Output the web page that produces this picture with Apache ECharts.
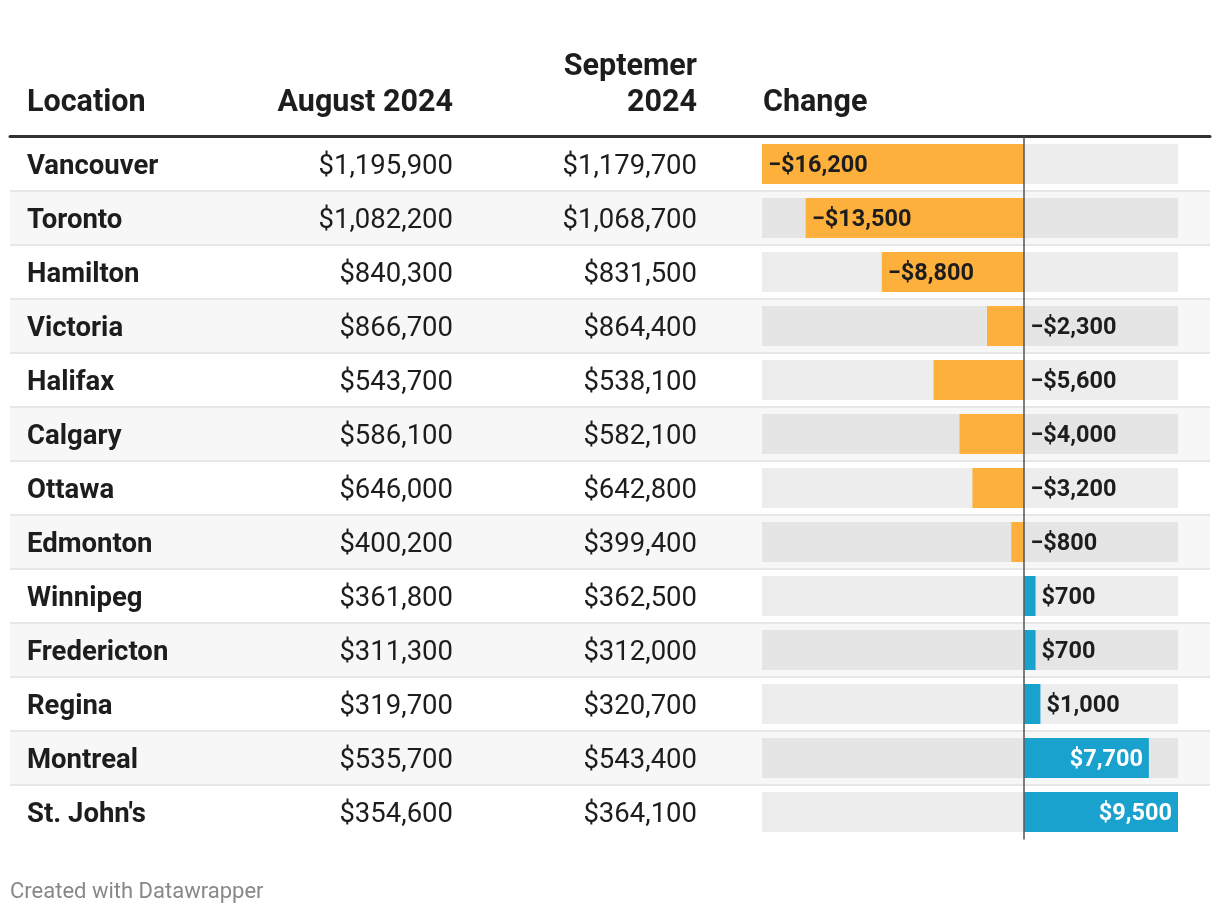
<!DOCTYPE html>
<html>
<head>
<meta charset="utf-8">
<script src="https://cdn.jsdelivr.net/npm/echarts@6.0.0/dist/echarts.min.js"></script>
<style>
  html, body { margin: 0; padding: 0; background: #ffffff; }
  #chart { width: 1220px; height: 914px; }
</style>
</head>
<body>
<div id="chart"></div>
<script>
// ---- Data ----
const locations = ['Vancouver', 'Toronto', 'Hamilton', 'Victoria', 'Halifax', 'Calgary', 'Ottawa',
  'Edmonton', 'Winnipeg', 'Fredericton', 'Regina', 'Montreal', "St. John's"];
const august2024 = [1195900, 1082200, 840300, 866700, 543700, 586100, 646000,
  400200, 361800, 311300, 319700, 535700, 354600];
const september2024 = [1179700, 1068700, 831500, 864400, 538100, 582100, 642800,
  399400, 362500, 312000, 320700, 543400, 364100];
const change = [-16200, -13500, -8800, -2300, -5600, -4000, -3200,
  -800, 700, 700, 1000, 7700, 9500];
const headers = ['Location', 'August 2024', 'Septemer\n2024', 'Change'];
const footerText = 'Created with Datawrapper';

// ---- Helpers ----
const FONT = 'Roboto, "Noto Sans", sans-serif';
const TEXT = '#1d1d1d';
function money(v) {
  const s = '$' + Math.abs(v).toLocaleString('en-US');
  return v < 0 ? '\u2212' + s : s;
}

const ORANGE = '#fdb03b';
const BLUE = '#1aa2cf';

const barData = change.map(function (v) {
  let label;
  if (v <= -8000) {
    label = { position: 'insideLeft', distance: 6, color: TEXT };
  } else if (v < 5000) {
    label = { position: 'right', distance: 6, color: TEXT };
  } else {
    label = { position: 'insideRight', distance: 6, color: '#ffffff' };
  }
  return { value: v, itemStyle: { color: v < 0 ? ORANGE : BLUE }, label: label };
});

const TOP = 137, ROWH = 54;
const HEIGHT = ROWH * locations.length;
const BODY_SIZE = 27.5;
const HEAD_SIZE = 30.5;
const TEXT_SHIFT = 3;

const chart = echarts.init(document.getElementById('chart'), null, { renderer: 'canvas' });

function labelAxis(x, align, fmt, bold) {
  return {
    type: 'category',
    gridIndex: 2,
    data: locations,
    inverse: true,
    position: 'left',
    offset: -(x - 10),
    axisLine: { show: false },
    axisTick: { show: false },
    axisLabel: {
      show: true,
      interval: 0,
      margin: 0,
      align: align,
      verticalAlign: 'middle',
      fontFamily: FONT,
      fontSize: BODY_SIZE,
      fontWeight: bold ? 'bold' : 'normal',
      color: TEXT,
      formatter: fmt
    },
    splitLine: { show: false },
    splitArea: { show: false }
  };
}

function headText(txt, x, y, align) {
  return { type: 'text', x: x, y: y, style: { text: txt, font: 'bold ' + HEAD_SIZE + 'px ' + FONT, fill: TEXT, align: align, verticalAlign: 'middle' } };
}

const option = {
  backgroundColor: '#ffffff',
  animation: false,
  grid: [
    { left: 10, right: 10, top: TOP, height: HEIGHT, outerBoundsMode: 'none', containLabel: false },
    { left: 762, right: 42, top: TOP, height: HEIGHT, outerBoundsMode: 'none', containLabel: false },
    { left: 10, right: 10, top: TOP + TEXT_SHIFT, height: HEIGHT, outerBoundsMode: 'none', containLabel: false }
  ],
  xAxis: [
    {
      type: 'value', gridIndex: 0, min: 0, max: 1, position: 'top', offset: 1,
      axisLine: { show: true, onZero: false, lineStyle: { color: '#333333', width: 3 } },
      axisTick: { show: false }, axisLabel: { show: false }, splitLine: { show: false }
    },
    {
      type: 'value', gridIndex: 0, min: 0, max: 1, position: 'bottom',
      axisLine: { show: true, onZero: false, lineStyle: { color: '#ffffff', width: 3 } },
      axisTick: { show: false }, axisLabel: { show: false }, splitLine: { show: false }
    },
    {
      type: 'value', gridIndex: 1, min: -16200, max: 9500,
      axisLine: { show: false }, axisTick: { show: false }, axisLabel: { show: false },
      splitLine: { show: false }
    },
    {
      type: 'value', gridIndex: 2, min: 0, max: 1, show: false
    }
  ],
  yAxis: [
    {
      type: 'category', gridIndex: 0, data: locations, inverse: true,
      axisLine: { show: false }, axisTick: { show: false }, axisLabel: { show: false },
      splitArea: { show: true, areaStyle: { color: ['#ffffff', '#f7f7f7'] } },
      splitLine: { show: true, lineStyle: { color: '#e7e7e7', width: 2 } }
    },
    {
      type: 'category', gridIndex: 1, data: locations, inverse: true, z: 10,
      axisLine: { show: true, onZero: true, lineStyle: { color: '#555555', width: 1.5 } },
      axisTick: { show: false }, axisLabel: { show: false },
      splitLine: { show: false }, splitArea: { show: false }
    },
    labelAxis(27, 'left', function (v) { return v; }, true),
    labelAxis(453, 'right', function (v, i) { return money(august2024[i]); }, false),
    labelAxis(697, 'right', function (v, i) { return money(september2024[i]); }, false)
  ],
  series: [
    {
      type: 'bar',
      xAxisIndex: 2,
      yAxisIndex: 1,
      data: barData,
      barWidth: 40,
      showBackground: true,
      backgroundStyle: { color: 'rgba(0,0,0,0.07)' },
      label: {
        show: true,
        fontFamily: FONT,
        fontSize: 23.5,
        fontWeight: 'bold',
        offset: [0, 2],
        formatter: function (p) { return money(p.value); }
      }
    }
  ],
  graphic: [
    headText(headers[0], 27, 103.5, 'left'),
    headText(headers[1], 453, 103.5, 'right'),
    headText(headers[2].split('\n')[0], 697, 67.5, 'right'),
    headText(headers[2].split('\n')[1], 697, 103.5, 'right'),
    headText(headers[3], 763, 103.5, 'left'),
    { type: 'text', x: 10, y: 892, style: { text: footerText, font: '22px ' + FONT, fill: '#888888', align: 'left', verticalAlign: 'middle' } }
  ]
};
chart.setOption(option);
</script>
</body>
</html>
